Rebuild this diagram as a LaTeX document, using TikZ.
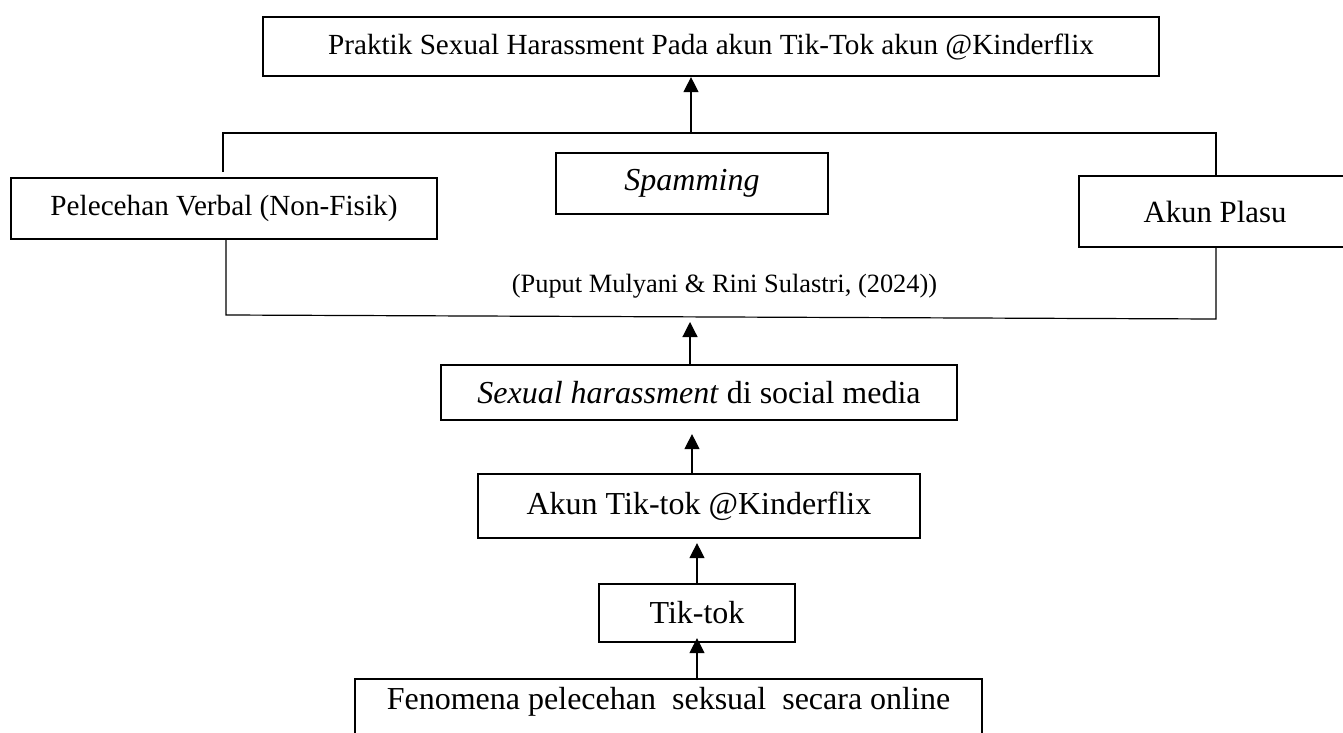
\documentclass[tikz,border=0pt]{standalone}
\usepackage{fontspec}
\setmainfont{Liberation Serif}
\usepackage{tikz}
\usetikzlibrary{arrows.meta}
\usetikzlibrary{positioning}
\usetikzlibrary{calc}

\begin{document}
\begin{tikzpicture}[x=0.5pt,y=-0.5pt]
	\tikzstyle{kotak}=[draw,line width=1.1pt,inner sep=0pt]
	\tikzstyle{besar}=[font=\fontsize{16}{19}\selectfont]
	\tikzstyle{kecil}=[font=\fontsize{14.6}{17}\selectfont]
	\tikzstyle{garis}=[line width=0.6pt]
	\tikzstyle{panah}=[-{Triangle[length=7.5pt,width=7.5pt]},line width=0.6pt]
	
	\useasboundingbox (0,0) rectangle (1343,733);
	
	\node[kotak,kecil,minimum width=448pt,minimum height=29.5pt] (praktik) at (711,46.5) {Praktik Sexual Harassment Pada akun Tik-Tok akun @Kinderflix};
	\node[kotak,kecil,minimum width=213pt,minimum height=30.5pt] (verbal) at (224,208.5) {Pelecehan Verbal (Non-Fisik)};
	\node[kotak,besar,minimum width=136pt,minimum height=30.5pt] (spamming) at (692,183.5) {\textit{Spamming}};
	\node[kotak,font=\fontsize{15.4}{18}\selectfont,minimum width=136pt,minimum height=35.5pt] (plasu) at (1215,211.5) {Akun Plasu};
	\node[font=\fontsize{13.2}{16}\selectfont,anchor=base,inner sep=0pt] (sumber) at (724.5,292) {(Puput Mulyani \& Rini Sulastri, (2024))};
	\node[kotak,besar,minimum width=258pt,minimum height=27.5pt] (sosmed) at (699,392.5) {\textit{Sexual harassment} di social media};
	\node[kotak,besar,minimum width=221pt,minimum height=32pt] (akun) at (699,506) {Akun Tik-tok @Kinderflix};
	\node[kotak,besar,minimum width=98pt,minimum height=29pt] (tiktok) at (697,613) {Tik-tok};
	\node[kotak,besar,minimum width=313.5pt,text height=15pt,text depth=25pt,anchor=north] (fenomena) at (668.5,678) {Fenomena pelecehan\ \ seksual\ \ secara online};
	
	% kurung atas dan bawah
	\coordinate (ujungkiri) at (223,172);
	\coordinate (kiriatas) at (223,133);
	\coordinate (kananatas) at (1216,133);
	\coordinate (kiribawah) at (226,315);
	\coordinate (kananbawah) at (1216,319);
	\coordinate (puncak) at (691,133);
	\coordinate (tengah) at (690,317);
	
	\draw[garis] (ujungkiri) -- (kiriatas) -- (kananatas) -- (kananatas |- plasu.north);
	\draw[garis] (kiribawah |- verbal.south) -- (kiribawah) -- (kananbawah) -- (kananbawah |- plasu.south);
	
	\draw[panah] (puncak) -- (puncak |- praktik.south);
	\draw[panah,shorten >=2.5pt] (tengah |- sosmed.north) -- (tengah);
	\draw[panah,shorten >=6.5pt] ([xshift=-3.5pt]akun.north) -- ([xshift=-3.5pt]sosmed.south);
	\draw[panah,shorten >=2pt] (tiktok.north) -- (tiktok.north |- akun.south);
	\draw[panah,shorten >=-2.5pt] (fenomena.north -| tiktok.south) -- (tiktok.south);
\end{tikzpicture}
\end{document}
